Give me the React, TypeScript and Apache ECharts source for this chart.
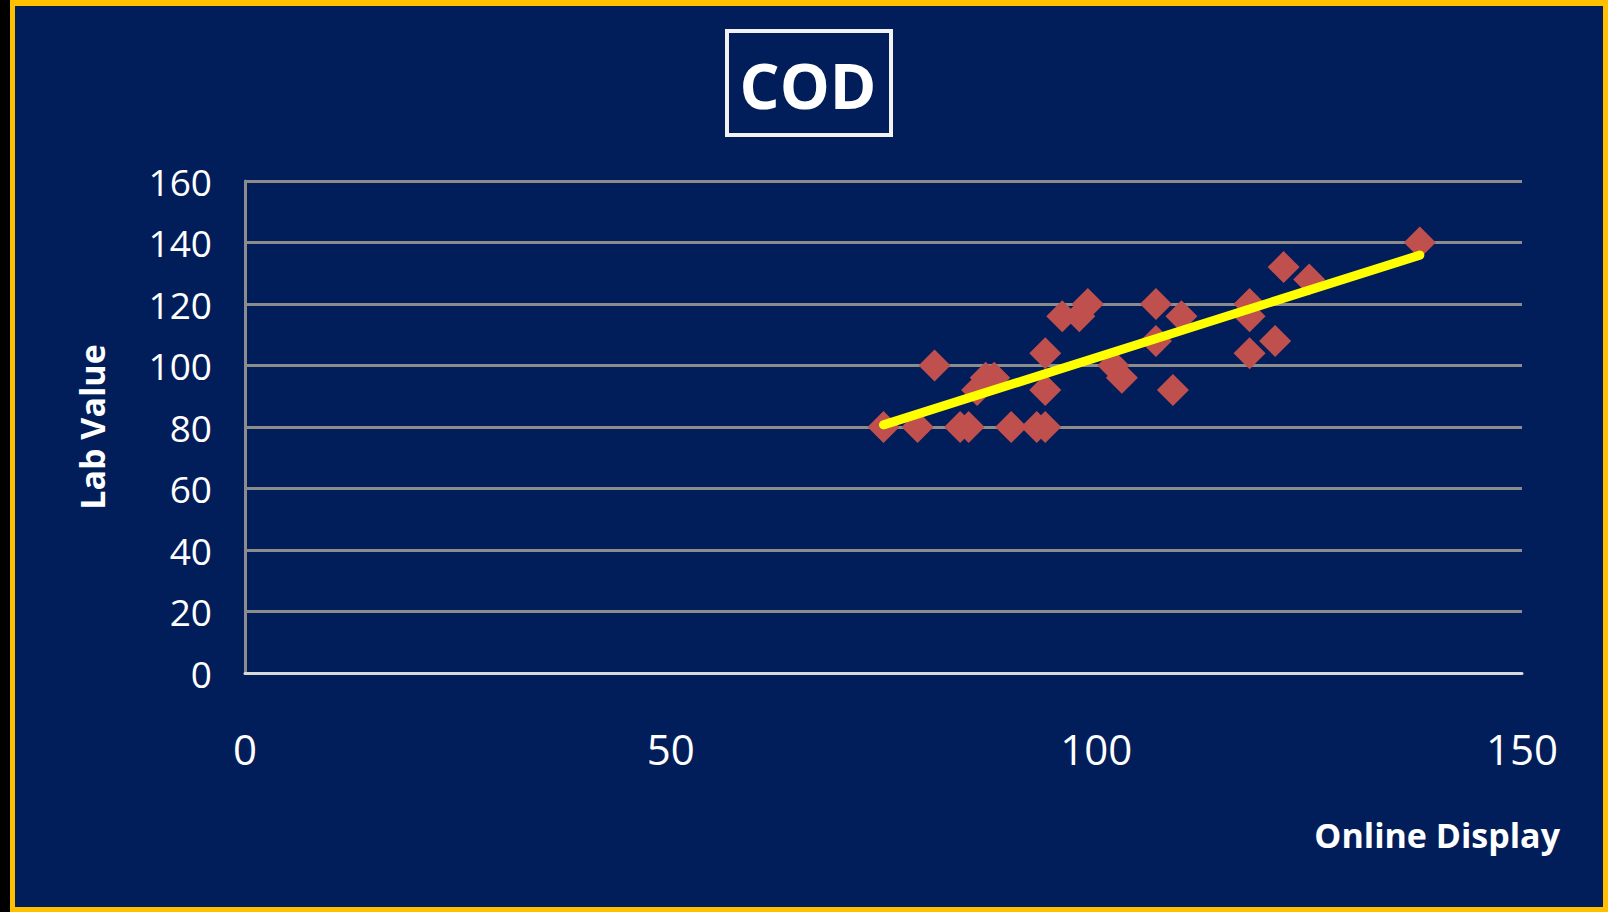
import React, { useEffect, useRef } from "react";
import * as echarts from "echarts";

// COD: lab value against the online analyser's display
const onlineDisplay = [
  75, 79, 81, 84, 85, 86, 87, 88, 90, 93, 94, 94, 94, 96, 98, 99, 102, 103,
  107, 107, 109, 110, 118, 118, 118, 121, 122, 125, 138,
];
const labValue = [
  80, 80, 100, 80, 80, 92, 96, 96, 80, 80, 80, 92, 104, 116, 116, 120, 100, 96,
  120, 108, 92, 116, 120, 116, 104, 108, 132, 128, 140,
];

// Linear trend line end points (x, y)
const trendX = [75, 138];
const trendY = [80.7, 135.9];

const yTicks = { min: 0, max: 160, interval: 20 };
const xTicks = { min: 0, max: 150, interval: 50 };

const NAVY = "#011E5B";
const FONT = "'Open Sans', 'DejaVu Sans', sans-serif";

export default function App() {
  const ref = useRef<HTMLDivElement>(null);

  useEffect(() => {
    if (!ref.current) return;
    const chart = echarts.init(ref.current, undefined, { renderer: "svg" });

    const points = onlineDisplay.map((x, i) => [x, labValue[i]]);
    const trend = trendX.map((x, i) => [x, trendY[i]]);

    chart.setOption({
      animation: false,
      backgroundColor: "transparent",
      grid: { left: 245, right: 90, top: 181, bottom: 239, containLabel: false },
      xAxis: {
        type: "value",
        min: xTicks.min,
        max: xTicks.max,
        interval: xTicks.interval,
        axisLine: { show: true, onZero: false, lineStyle: { color: "#D9D9D9", width: 3 } },
        axisTick: { show: false },
        splitLine: { show: false },
        axisLabel: {
          color: "#FFFFFF",
          fontFamily: FONT,
          fontSize: 42,
          margin: 75,
          verticalAlign: "middle",
        },
      },
      yAxis: {
        type: "value",
        min: yTicks.min,
        max: yTicks.max,
        interval: yTicks.interval,
        axisLine: { show: true, onZero: false, lineStyle: { color: "#8C8C8C", width: 3 } },
        axisTick: { show: false },
        splitLine: { show: true, lineStyle: { color: "#8C8C8C", width: 3 } },
        axisLabel: {
          color: "#FFFFFF",
          fontFamily: FONT,
          fontSize: 37,
          margin: 33,
        },
      },
      graphic: [
        {
          type: "rect",
          shape: { x: 727, y: 31, width: 164, height: 104 },
          style: { fill: "transparent", stroke: "#F2F2F2", lineWidth: 4 },
        },
        {
          type: "text",
          x: 808,
          y: 84,
          style: {
            text: "COD",
            fill: "#FFFFFF",
            font: `bold 63px ${FONT}`,
            textAlign: "center",
            textVerticalAlign: "middle",
          },
        },
        {
          type: "text",
          x: 92,
          y: 427,
          rotation: Math.PI / 2,
          style: {
            text: "Lab Value",
            fill: "#FFFFFF",
            font: `bold 34px ${FONT}`,
            textAlign: "center",
            textVerticalAlign: "middle",
          },
        },
        {
          type: "text",
          x: 1560,
          y: 835,
          style: {
            text: "Online Display",
            fill: "#FFFFFF",
            font: `bold 34px ${FONT}`,
            textAlign: "right",
            textVerticalAlign: "middle",
          },
        },
      ],
      series: [
        {
          type: "scatter",
          data: points,
          symbol: "diamond",
          symbolSize: 32,
          itemStyle: { color: "#C0504D", opacity: 1 },
          z: 3,
        },
        {
          type: "line",
          data: trend,
          showSymbol: false,
          symbol: "none",
          lineStyle: { color: "#FFFF00", width: 9, cap: "round" },
          z: 5,
        },
      ],
    });

    return () => chart.dispose();
  }, []);

  return (
    <div
      style={{
        position: "fixed",
        left: 0,
        top: 0,
        width: 1612,
        height: 912,
        background: "#FFFFFF",
        overflow: "hidden",
      }}
    >
      <div
        style={{
          position: "absolute",
          left: 0,
          top: 0,
          width: 10,
          height: 912,
          background: "#000000",
        }}
      />
      <div
        style={{
          position: "absolute",
          left: 10,
          top: 0,
          width: 1598,
          height: 912,
          boxSizing: "border-box",
          border: "5px solid #FFC000",
          borderTopWidth: 6,
          background: NAVY,
        }}
      />
      <div
        ref={ref}
        style={{ position: "absolute", left: 0, top: 0, width: 1612, height: 912 }}
      />
    </div>
  );
}
